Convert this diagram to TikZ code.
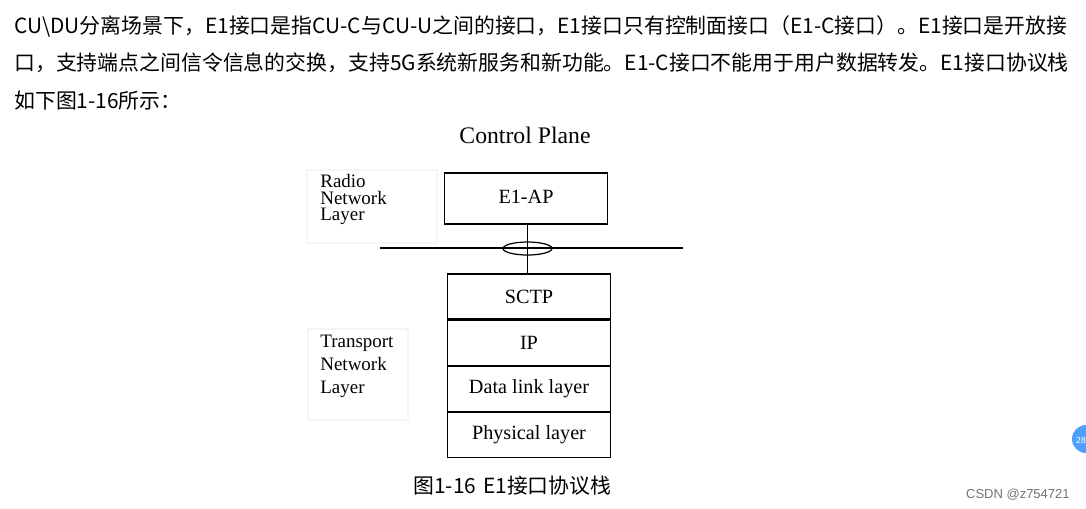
\documentclass[tikz,border=0pt]{standalone}
\usepackage{fontspec}
\setmainfont{Liberation Serif}
\newfontfamily\cjk{Noto Sans CJK SC}
\newfontfamily\wmark{Liberation Sans}
\usetikzlibrary{positioning,shapes.geometric}

\begin{document}
\begin{tikzpicture}[x=0.02cm,y=-0.02cm,
  para/.style={anchor=base west,inner sep=0pt,font=\cjk\fontsize{11.88}{14}\selectfont},
  layer/.style={draw,line width=0.7pt,minimum width=3.26cm,minimum height=0.9cm,inner sep=0pt,font=\fontsize{11.5}{13}\selectfont},
  side/.style={anchor=north west,inner sep=0pt,align=left},
  faint/.style={draw=black!4,line width=0.6pt}]
\useasboundingbox[fill=white] (0,0) rectangle (1086,508);
% text above the figure
\node[para] (p1) at (14,33) {CU\textbackslash DU分离场景下，E1接口是指CU-C与CU-U之间的接口，E1接口只有控制面接口（E1-C接口）。E1接口是开放接};
\node[para] (p2) at (14,70) {口，支持端点之间信令信息的交换，支持5G系统新服务和新功能。E1-C接口不能用于用户数据转发。E1接口协议栈};
\node[para] (p3) at (14,108) {如下图1-16所示：};
% title
\node[anchor=base,inner sep=0pt,font=\fontsize{13.5}{15}\selectfont] (title) at (525,143) {Control Plane};
% layer names
\draw[faint] (307,170) rectangle (437,243);
\draw[faint] (308,329) rectangle (408,420);
\node[side,font=\fontsize{10.8}{9.4}\selectfont] (rnl) at (320,174) {Radio\\Network\\Layer};
\node[side,font=\fontsize{10.8}{13}\selectfont] (tnl) at (320,335) {Transport\\Network\\Layer};
% E1-AP and the stack below
\node[layer,minimum height=1.02cm] (e1ap) at (526,198.5) {\raisebox{2pt}{E1-AP}};
\node[layer] (sctp) at (529,296.5) {SCTP};
\node[layer,below=0pt of sctp] (ip) {IP};
\node[layer,below=0pt of ip] (dll) {Data link layer};
\node[layer,below=0pt of dll] (phy) {Physical layer};
% separation line with the ellipse
\coordinate (sl) at (380,248);
\coordinate (sr) at (683,248);
\draw[line width=0.7pt] (sl) -- (sr);
\node[draw,line width=0.7pt,ellipse,minimum width=0.98cm,minimum height=0.26cm,inner sep=0pt] (sap) at (527.5,248.5) {};
\draw[line width=0.7pt] (e1ap.south -| sap) -- (sctp.north -| sap);
% caption
\node[para] (cap) at (413,493) {图1-16\,\,E1接口协议栈};
% screenshot marks
\definecolor{badgeblue}{RGB}{78,160,250}
\fill[badgeblue] (1086,439) circle [radius=0.28cm];
\node[inner sep=0pt,text=white,font=\wmark\fontsize{5}{6}\selectfont] (badge) at (1081,440) {28};
\node[anchor=base east,inner sep=0pt,text=black!55,font=\wmark\fontsize{7.4}{9}\selectfont] (wm) at (1070,498) {CSDN @z754721};
\end{tikzpicture}
\end{document}
